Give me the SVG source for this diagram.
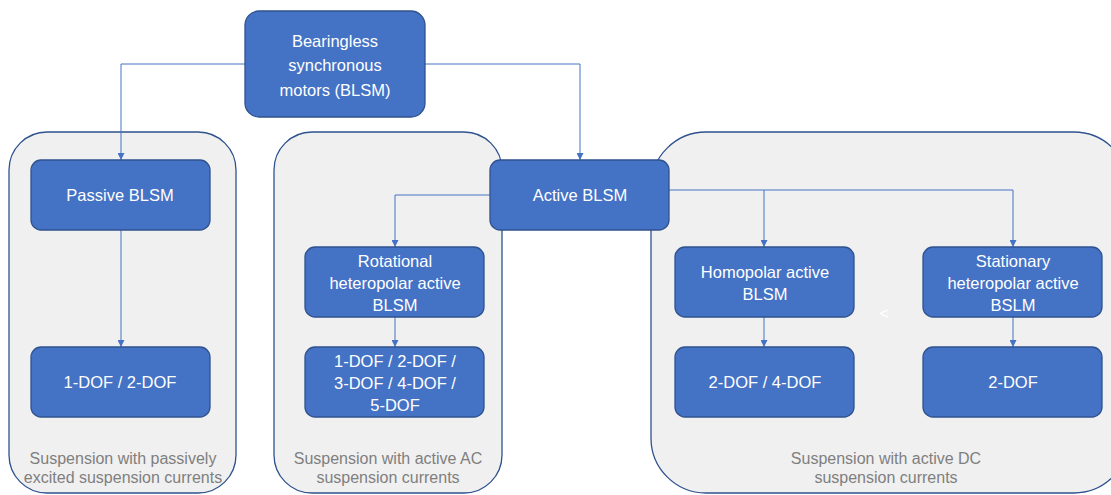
<svg xmlns="http://www.w3.org/2000/svg" width="1111" height="495" viewBox="0 0 1111 495">
<style>
.cont{fill:#f0f0f0;stroke:#2f528f;stroke-width:1.3}
.node{fill:#4472c4;stroke:#2f528f;stroke-width:1.3}
.nt{font-family:"Liberation Sans",Arial,sans-serif;font-size:16.5px;fill:#ffffff;text-anchor:middle}
.ct{font-family:"Liberation Sans",Arial,sans-serif;font-size:16px;fill:#7f7f7f;text-anchor:middle}
.conn{fill:none;stroke:#4472c4;stroke-width:1}
</style>
<defs>
<marker id="ah" viewBox="0 0 10 10" refX="10" refY="5" markerWidth="7" markerHeight="7" markerUnits="userSpaceOnUse" orient="auto">
<path d="M0,0 L10,5 L0,10 z" fill="#4472c4"/>
</marker>
</defs>
<rect width="1111" height="495" fill="#ffffff"/>
<g id="group-passive">
<rect class="cont" x="9" y="132" width="227" height="361" rx="38"/>
<text class="ct" x="123" y="464">Suspension with passively</text>
<text class="ct" x="123" y="483">excited suspension currents</text>
</g>
<g id="group-ac">
<rect class="cont" x="274" y="132" width="228" height="361" rx="38"/>
<text class="ct" x="388" y="464">Suspension with active AC</text>
<text class="ct" x="388" y="483">suspension currents</text>
</g>
<g id="group-dc">
<rect class="cont" x="651" y="132" width="478" height="361" rx="55"/>
<text class="ct" x="886" y="464">Suspension with active DC</text>
<text class="ct" x="886" y="483">suspension currents</text>
</g>
<g id="connectors">
<path class="conn" d="M245,64 H121 V160" marker-end="url(#ah)"/>
<path class="conn" d="M425,64 H580 V160" marker-end="url(#ah)"/>
<path class="conn" d="M121,230 V347" marker-end="url(#ah)"/>
<path class="conn" d="M490,195 H395 V247" marker-end="url(#ah)"/>
<path class="conn" d="M669,190 H764 V247" marker-end="url(#ah)"/>
<path class="conn" d="M764,190 H1013 V247" marker-end="url(#ah)"/>
<path class="conn" d="M395,317 V347" marker-end="url(#ah)"/>
<path class="conn" d="M764,317 V347" marker-end="url(#ah)"/>
<path class="conn" d="M1013,317 V347" marker-end="url(#ah)"/>
</g>
<g id="node-root">
<rect class="node" x="245" y="11" width="180" height="106" rx="14"/>
<text class="nt" x="335" y="47">Bearingless</text>
<text class="nt" x="335" y="71">synchronous</text>
<text class="nt" x="335" y="96">motors (BLSM)</text>
</g>
<g id="node-passive">
<rect class="node" x="31" y="160" width="179" height="70" rx="10"/>
<text class="nt" x="120" y="201">Passive BLSM</text>
</g>
<g id="node-passive-dof">
<rect class="node" x="31" y="347" width="179" height="70" rx="10"/>
<text class="nt" x="120" y="388">1-DOF / 2-DOF</text>
</g>
<g id="node-active">
<rect class="node" x="490" y="160" width="179" height="70" rx="10"/>
<text class="nt" x="580" y="201">Active BLSM</text>
</g>
<g id="node-rotational">
<rect class="node" x="305" y="247" width="179" height="70" rx="10"/>
<text class="nt" x="395" y="267">Rotational</text>
<text class="nt" x="395" y="289">heteropolar active</text>
<text class="nt" x="395" y="311">BLSM</text>
</g>
<g id="node-rotational-dof">
<rect class="node" x="305" y="347" width="179" height="70" rx="10"/>
<text class="nt" x="395" y="367">1-DOF / 2-DOF /</text>
<text class="nt" x="395" y="389">3-DOF / 4-DOF /</text>
<text class="nt" x="395" y="411">5-DOF</text>
</g>
<g id="node-homopolar">
<rect class="node" x="675" y="247" width="179" height="70" rx="10"/>
<text class="nt" x="765" y="278">Homopolar active</text>
<text class="nt" x="765" y="300">BLSM</text>
</g>
<g id="node-homopolar-dof">
<rect class="node" x="675" y="347" width="179" height="70" rx="10"/>
<text class="nt" x="765" y="388">2-DOF / 4-DOF</text>
</g>
<g id="node-stationary">
<rect class="node" x="923" y="247" width="179" height="70" rx="10"/>
<text class="nt" x="1013" y="267">Stationary</text>
<text class="nt" x="1013" y="289">heteropolar active</text>
<text class="nt" x="1013" y="311">BSLM</text>
</g>
<g id="node-stationary-dof">
<rect class="node" x="923" y="347" width="179" height="70" rx="10"/>
<text class="nt" x="1013" y="388">2-DOF</text>
</g>
<text class="nt" x="884" y="319">&lt;</text>
</svg>
